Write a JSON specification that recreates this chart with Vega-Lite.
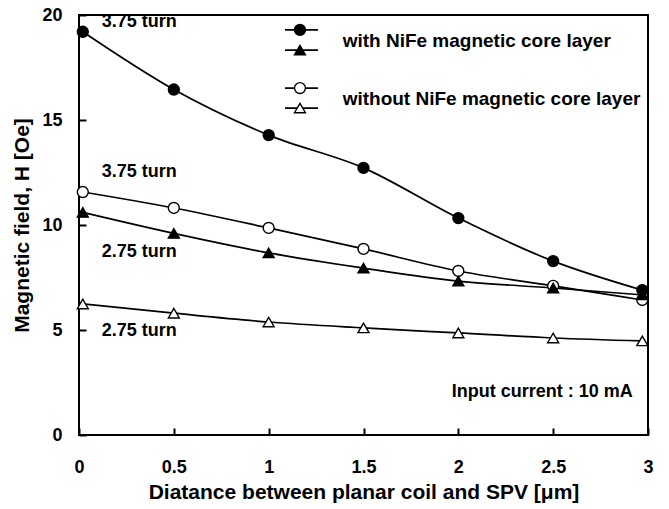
{
  "$schema": "https://vega.github.io/schema/vega-lite/v6.json",
  "autosize": {"type": "none"},
  "padding": {"left": 79, "top": 15, "right": 21, "bottom": 74},
  "width": 569,
  "height": 420,
  "background": "white",
  "config": {
    "view": {"stroke": "black", "strokeWidth": 2},
    "font": "Liberation Sans",
    "axis": {
      "grid": false,
      "domain": false,
      "labelFont": "Liberation Sans",
      "labelFontWeight": "bold",
      "labelFontSize": 18,
      "labelColor": "black",
      "titleFont": "Liberation Sans",
      "titleFontWeight": "bold",
      "titleColor": "black"
    }
  },
  "datasets": {
    "main": [
      {"x": 0.02, "H": 19.2, "series": "with NiFe 3.75"},
      {"x": 0.5, "H": 16.45, "series": "with NiFe 3.75"},
      {"x": 1.0, "H": 14.28, "series": "with NiFe 3.75"},
      {"x": 1.5, "H": 12.72, "series": "with NiFe 3.75"},
      {"x": 2.0, "H": 10.33, "series": "with NiFe 3.75"},
      {"x": 2.5, "H": 8.28, "series": "with NiFe 3.75"},
      {"x": 2.97, "H": 6.9, "series": "with NiFe 3.75"},
      {"x": 0.02, "H": 11.57, "series": "without NiFe 3.75"},
      {"x": 0.5, "H": 10.81, "series": "without NiFe 3.75"},
      {"x": 1.0, "H": 9.86, "series": "without NiFe 3.75"},
      {"x": 1.5, "H": 8.86, "series": "without NiFe 3.75"},
      {"x": 2.0, "H": 7.81, "series": "without NiFe 3.75"},
      {"x": 2.5, "H": 7.1, "series": "without NiFe 3.75"},
      {"x": 2.97, "H": 6.43, "series": "without NiFe 3.75"},
      {"x": 0.02, "H": 10.6, "series": "with NiFe 2.75"},
      {"x": 0.5, "H": 9.6, "series": "with NiFe 2.75"},
      {"x": 1.0, "H": 8.67, "series": "with NiFe 2.75"},
      {"x": 1.5, "H": 7.95, "series": "with NiFe 2.75"},
      {"x": 2.0, "H": 7.33, "series": "with NiFe 2.75"},
      {"x": 2.5, "H": 7.0, "series": "with NiFe 2.75"},
      {"x": 2.97, "H": 6.67, "series": "with NiFe 2.75"},
      {"x": 0.02, "H": 6.24, "series": "without NiFe 2.75"},
      {"x": 0.5, "H": 5.8, "series": "without NiFe 2.75"},
      {"x": 1.0, "H": 5.38, "series": "without NiFe 2.75"},
      {"x": 1.5, "H": 5.1, "series": "without NiFe 2.75"},
      {"x": 2.0, "H": 4.86, "series": "without NiFe 2.75"},
      {"x": 2.5, "H": 4.62, "series": "without NiFe 2.75"},
      {"x": 2.97, "H": 4.48, "series": "without NiFe 2.75"}
    ],
    "legendGlyphs": [
      {"x": 1.165, "x1": 1.086, "x2": 1.26, "y": 19.29, "series": "with NiFe 3.75"},
      {"x": 1.165, "x1": 1.086, "x2": 1.26, "y": 18.33, "series": "with NiFe 2.75"},
      {"x": 1.165, "x1": 1.086, "x2": 1.26, "y": 16.52, "series": "without NiFe 3.75"},
      {"x": 1.165, "x1": 1.086, "x2": 1.26, "y": 15.57, "series": "without NiFe 2.75"}
    ],
    "legendText": [
      {"x": 1.39, "y": 18.75, "label": "with NiFe magnetic core layer"},
      {"x": 1.39, "y": 15.98, "label": "without  NiFe magnetic core layer"}
    ],
    "leftLabels": [
      {"x": 0.12, "y": 19.67, "label": "3.75 turn"},
      {"x": 0.12, "y": 12.52, "label": "3.75 turn"},
      {"x": 0.12, "y": 8.71, "label": "2.75 turn"},
      {"x": 0.12, "y": 4.95, "label": "2.75 turn"}
    ],
    "rightLabels": [
      {"x": 2.92, "y": 2.05, "label": "Input current : 10 mA"}
    ]
  },
  "encoding": {
    "x": {
      "field": "x", "type": "quantitative",
      "scale": {"domain": [0, 3], "nice": false, "zero": false},
      "axis": {"values": [0, 0.5, 1, 1.5, 2, 2.5, 3], "format": "~g", "ticks": true, "tickColor": "black", "tickWidth": 2, "tickSize": 7, "offset": -7, "zindex": 2, "labelPadding": 23, "labelFlush": false, "title": "Diatance between planar coil and SPV [μm]", "titleFontSize": 21, "titlePadding": 5}
    },
    "y": {
      "field": "H", "type": "quantitative",
      "scale": {"domain": [0, 20], "nice": false},
      "axis": {"values": [0, 5, 10, 15, 20], "ticks": true, "tickColor": "black", "tickWidth": 2, "tickSize": 7, "offset": -7, "zindex": 2, "labelPadding": 17, "title": "Magnetic field, H [Oe]", "titleFontSize": 21, "titlePadding": 9}
    }
  },
  "layer": [
    {
      "data": {"name": "main"},
      "mark": {"type": "line", "interpolate": "monotone", "color": "black", "strokeWidth": 1.7},
      "encoding": {"detail": {"field": "series"}}
    },
    {
      "data": {"name": "main"},
      "mark": {"type": "point", "filled": true, "stroke": "black", "strokeWidth": 1.4, "opacity": 1, "size": 120},
      "encoding": {
        "shape": {"field": "series", "scale": {"domain": ["with NiFe 3.75", "without NiFe 3.75", "with NiFe 2.75", "without NiFe 2.75"], "range": ["circle", "circle", "triangle-up", "triangle-up"]}, "legend": null},
        "fill": {"field": "series", "scale": {"domain": ["with NiFe 3.75", "without NiFe 3.75", "with NiFe 2.75", "without NiFe 2.75"], "range": ["black", "white", "black", "white"]}, "legend": null}
      }
    },
    {
      "data": {"name": "legendGlyphs"},
      "mark": {"type": "rule", "color": "black", "strokeWidth": 1.7},
      "encoding": {
        "x": {"field": "x1", "type": "quantitative"},
        "x2": {"field": "x2"},
        "y": {"field": "y", "type": "quantitative"}
      }
    },
    {
      "data": {"name": "legendGlyphs"},
      "mark": {"type": "point", "filled": true, "stroke": "black", "strokeWidth": 1.4, "opacity": 1, "size": 120},
      "encoding": {
        "y": {"field": "y", "type": "quantitative"},
        "shape": {"field": "series", "scale": {"domain": ["with NiFe 3.75", "without NiFe 3.75", "with NiFe 2.75", "without NiFe 2.75"], "range": ["circle", "circle", "triangle-up", "triangle-up"]}, "legend": null},
        "fill": {"field": "series", "scale": {"domain": ["with NiFe 3.75", "without NiFe 3.75", "with NiFe 2.75", "without NiFe 2.75"], "range": ["black", "white", "black", "white"]}, "legend": null}
      }
    },
    {
      "data": {"name": "legendText"},
      "mark": {"type": "text", "align": "left", "baseline": "middle", "font": "Liberation Sans", "fontWeight": "bold", "fontSize": 19, "color": "black"},
      "encoding": {"y": {"field": "y", "type": "quantitative"}, "text": {"field": "label"}}
    },
    {
      "data": {"name": "leftLabels"},
      "mark": {"type": "text", "align": "left", "baseline": "middle", "font": "Liberation Sans", "fontWeight": "bold", "fontSize": 18, "color": "black"},
      "encoding": {"y": {"field": "y", "type": "quantitative"}, "text": {"field": "label"}}
    },
    {
      "data": {"name": "rightLabels"},
      "mark": {"type": "text", "align": "right", "baseline": "middle", "font": "Liberation Sans", "fontWeight": "bold", "fontSize": 18, "color": "black"},
      "encoding": {"y": {"field": "y", "type": "quantitative"}, "text": {"field": "label"}}
    }
  ]
}
